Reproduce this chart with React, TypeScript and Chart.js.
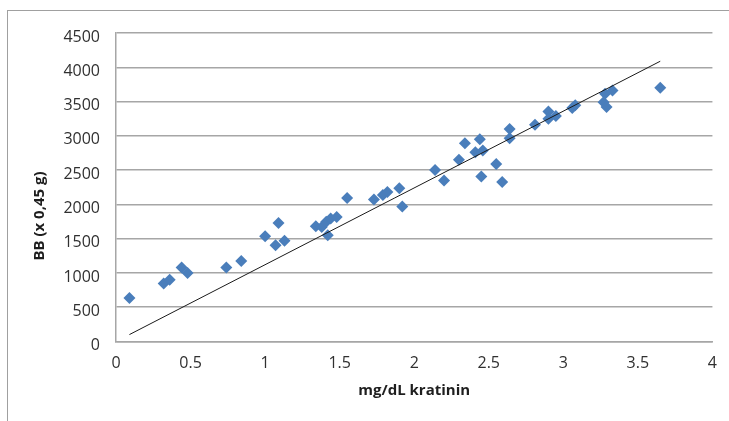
import React, { useEffect, useRef } from "react";
import { Chart, registerables } from "chart.js";

Chart.register(...registerables);

const creatinine = [
  0.09, 0.32, 0.36, 0.44, 0.48, 0.74, 0.84, 1.0, 1.07, 1.09, 1.13, 1.34, 1.38, 1.41, 1.42, 1.44, 1.48,
  1.55, 1.73, 1.79, 1.82, 1.9, 1.92, 2.14, 2.2, 2.3, 2.34, 2.41, 2.44, 2.46, 2.45, 2.55, 2.59, 2.64,
  2.64, 2.81, 2.9, 2.9, 2.95, 3.06, 3.08, 3.28, 3.27, 3.29, 3.33, 3.65,
];
const weight = [
  635, 845, 900, 1080, 1000, 1080, 1175, 1535, 1405, 1730, 1470, 1680, 1670, 1745, 1550, 1795, 1815,
  2095, 2070, 2136, 2180, 2235, 1970, 2500, 2350, 2650, 2890, 2760, 2950, 2785, 2405, 2590, 2325, 3100,
  2965, 3160, 3355, 3250, 3290, 3405, 3445, 3615, 3490, 3420, 3660, 3700,
];
const trendSlope = 1120;
const trendIntercept = 0;

const xTitle = "mg/dL kratinin";
const yTitle = "BB (x 0,45 g)";
const xMin = 0, xMax = 4, xStep = 0.5;
const yMin = 0, yMax = 4500, yStep = 500;

export default function App() {
  const ref = useRef<HTMLCanvasElement>(null);
  useEffect(() => {
    if (!ref.current) return;
    const points = creatinine.map((x, i) => ({ x, y: weight[i] }));
    const lo = Math.min(...creatinine);
    const hi = Math.max(...creatinine);
    const trend = [lo, hi].map((x) => ({ x, y: trendSlope * x + trendIntercept }));
    const yTitlePlugin = {
      id: "yTitle",
      afterDraw(chart: any) {
        const ctx = chart.ctx;
        ctx.save();
        ctx.translate(40, 216);
        ctx.rotate(-Math.PI / 2);
        ctx.font = "bold 15px 'Open Sans'";
        ctx.fillStyle = "#1e1e1e";
        ctx.textAlign = "center";
        ctx.textBaseline = "middle";
        ctx.fillText(yTitle, 0, 0);
        ctx.restore();
      },
    };
    const chart = new Chart(ref.current, {
      type: "scatter",
      data: {
        datasets: [
          {
            type: "scatter",
            data: points,
            pointStyle: "rectRot",
            pointRadius: 6,
            backgroundColor: "#4a7ebb",
            borderColor: "#4a7ebb",
            borderWidth: 0,
            order: 1,
          },
          {
            type: "line",
            data: trend,
            borderColor: "#1a1a1a",
            borderWidth: 1,
            pointRadius: 0,
            fill: false,
            order: 0,
          },
        ],
      },
      options: {
        animation: false,
        responsive: false,
        devicePixelRatio: 1,
        layout: { padding: { top: 33, right: 14, left: 0, bottom: 0 } },
        plugins: { legend: { display: false }, tooltip: { enabled: false } },
        scales: {
          x: {
            type: "linear",
            min: xMin,
            max: xMax,
            afterFit: (s: any) => { s.height = 79.5; },
            ticks: {
              stepSize: xStep,
              padding: 12,
              color: "#303030",
              font: { family: "'Open Sans'", size: 16 },
              callback: (v: any) => String(v),
            },
            grid: { display: false, drawTicks: false },
            border: { display: true, color: "#a6a6a6", width: 1.5 },
            title: {
              display: true,
              text: xTitle,
              color: "#1e1e1e",
              font: { family: "'Open Sans'", size: 15, weight: "bold" },
              padding: { top: 0, bottom: 21 },
            },
          },
          y: {
            type: "linear",
            min: yMin,
            max: yMax,
            afterFit: (s: any) => { s.width = 116; },
            ticks: {
              stepSize: yStep,
              padding: 16,
              labelOffset: 4,
              color: "#303030",
              font: { family: "'Open Sans'", size: 16 },
              callback: (v: any) => String(v),
            },
            grid: { color: "#a6a6a6", lineWidth: 1.5, drawTicks: false },
            border: { display: true, color: "#a6a6a6", width: 1.5 },
          },
        },
      },
      plugins: [yTitlePlugin],
    });
    return () => chart.destroy();
  }, []);
  return (
    <div style={{ position: "fixed", left: 0, top: 0, width: 729, height: 421, overflow: "hidden", background: "#fff" }}>
      <div style={{ position: "absolute", left: 7, top: 10, width: 800, height: 500, borderLeft: "1.5px solid #a0a0a0", borderTop: "1.5px solid #a0a0a0" }} />
      <canvas ref={ref} width={729} height={421} style={{ position: "absolute", left: 0, top: 0 }} />
    </div>
  );
}
